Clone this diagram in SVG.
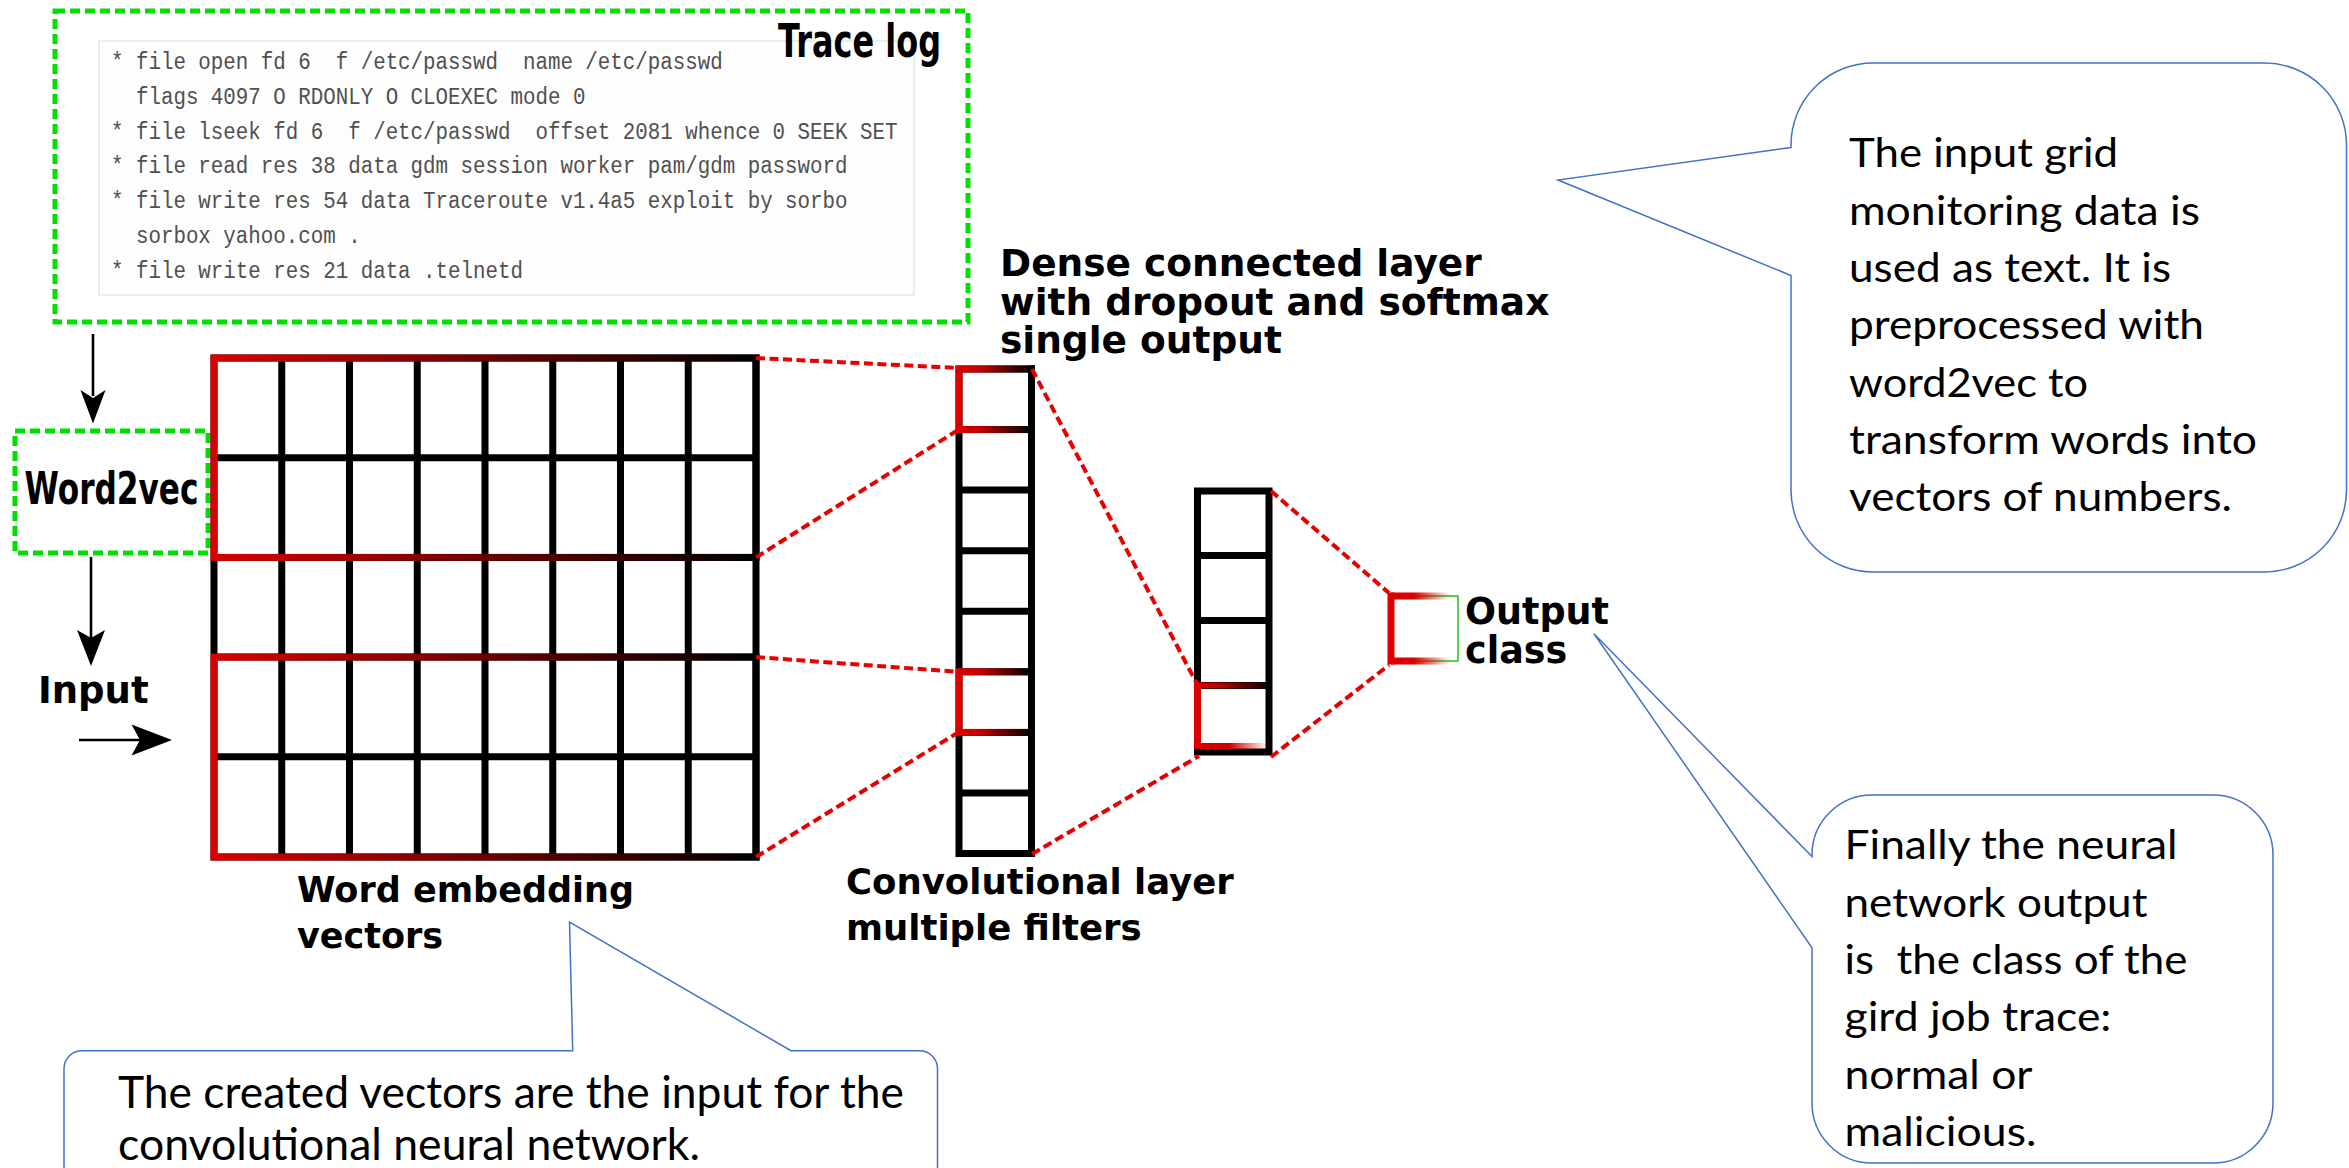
<svg xmlns="http://www.w3.org/2000/svg" width="2349" height="1168" viewBox="0 0 2349 1168">
  <style>
    .lbl { font-family: "DejaVu Sans", "Liberation Sans", sans-serif; font-weight: bold; fill: #000; }
    .mono { font-family: "Liberation Mono", "DejaVu Sans Mono", monospace; font-size: 23px; fill: #505050; white-space: pre; }
    .note { font-family: Lato, "Open Sans", sans-serif; fill: #000; }
    .greenbox { fill: none; stroke: #00e000; stroke-width: 5; stroke-dasharray: 10 5; }
    .cell { fill: #fff; stroke: #000; stroke-width: 7; }
    .div { stroke: #000; stroke-width: 7; }
    .link { fill: none; stroke: #e60000; stroke-width: 4; stroke-dasharray: 9 4.5; }
    .callout { fill: #fff; stroke: #4472c4; stroke-width: 1.5; }
    .arrow { stroke: #000; stroke-width: 2.6; fill: none; }
  </style>
  <defs>
    <linearGradient id="redToBlack" x1="0" y1="0" x2="1" y2="0">
      <stop offset="0" stop-color="#d80000"/>
      <stop offset="1" stop-color="#000"/>
    </linearGradient>
    <linearGradient id="redToBlackH" gradientUnits="userSpaceOnUse" x1="959" y1="0" x2="1031" y2="0">
      <stop offset="0" stop-color="#dd0000"/>
      <stop offset="0.3" stop-color="#c00000"/>
      <stop offset="1" stop-color="#000"/>
    </linearGradient>
    <linearGradient id="denseTop" gradientUnits="userSpaceOnUse" x1="1197" y1="0" x2="1270" y2="0">
      <stop offset="0" stop-color="#dd0000"/>
      <stop offset="0.3" stop-color="#c00000"/>
      <stop offset="1" stop-color="#000"/>
    </linearGradient>
    <linearGradient id="denseFade" gradientUnits="userSpaceOnUse" x1="1197" y1="0" x2="1268" y2="0">
      <stop offset="0" stop-color="#dd0000"/>
      <stop offset="0.45" stop-color="#cc0000"/>
      <stop offset="1" stop-color="#dd0000" stop-opacity="0"/>
    </linearGradient>
    <linearGradient id="outFade" gradientUnits="userSpaceOnUse" x1="1390" y1="0" x2="1450" y2="0">
      <stop offset="0" stop-color="#dd0000"/>
      <stop offset="0.4" stop-color="#dd0000"/>
      <stop offset="1" stop-color="#dd0000" stop-opacity="0"/>
    </linearGradient>
  </defs>

  <rect width="2349" height="1168" fill="#fff"/>

  <!-- trace log excerpt -->
  <g id="trace-log">
    <rect class="greenbox" x="55" y="11" width="913" height="311"/>
    <rect x="99" y="41" width="815" height="254" fill="#fdfdfd" stroke="#e2e2e2" stroke-width="1.2"/>
    <!-- monospace lines, narrowed horizontally to a 12.5px character pitch -->
    <g class="mono" transform="matrix(0.905 0 0 1 10.545 0)">
      <text x="111" y="69" xml:space="preserve">* file open fd 6  f /etc/passwd  name /etc/passwd</text>
      <text x="111" y="103.8" xml:space="preserve">  flags 4097 O RDONLY O CLOEXEC mode 0</text>
      <text x="111" y="138.6" xml:space="preserve">* file lseek fd 6  f /etc/passwd  offset 2081 whence 0 SEEK SET</text>
      <text x="111" y="173.4" xml:space="preserve">* file read res 38 data gdm session worker pam/gdm password</text>
      <text x="111" y="208.2" xml:space="preserve">* file write res 54 data Traceroute v1.4a5 exploit by sorbo</text>
      <text x="111" y="243" xml:space="preserve">  sorbox yahoo.com .</text>
      <text x="111" y="277.8" xml:space="preserve">* file write res 21 data .telnetd</text>
    </g>
    <text class="lbl" x="778" y="57" font-size="47" textLength="163" lengthAdjust="spacingAndGlyphs">Trace log</text>
  </g>

  <!-- word2vec step -->
  <g id="word2vec">
    <rect class="greenbox" x="15" y="431" width="193" height="122"/>
    <text class="lbl" x="24.5" y="504" font-size="45" textLength="174" lengthAdjust="spacingAndGlyphs">Word2vec</text>
  </g>

  <!-- input label -->
  <g id="input">
    <text class="lbl" x="38" y="703" font-size="37">Input</text>
  </g>

  <!-- word embedding matrix: 8 columns x 5 rows -->
  <g id="embedding">
    <rect class="cell" x="214" y="358" width="542" height="499"/>
    <g class="div">
      <line x1="281.75" y1="358" x2="281.75" y2="857"/>
      <line x1="349.5" y1="358" x2="349.5" y2="857"/>
      <line x1="417.25" y1="358" x2="417.25" y2="857"/>
      <line x1="485" y1="358" x2="485" y2="857"/>
      <line x1="552.75" y1="358" x2="552.75" y2="857"/>
      <line x1="620.5" y1="358" x2="620.5" y2="857"/>
      <line x1="688.25" y1="358" x2="688.25" y2="857"/>
      <line x1="214" y1="457.7" x2="756" y2="457.7"/>
      <line x1="214" y1="557.4" x2="756" y2="557.4"/>
      <line x1="214" y1="657.1" x2="756" y2="657.1"/>
      <line x1="214" y1="756.8" x2="756" y2="756.8"/>
    </g>
    <rect x="214" y="358" width="542" height="199.4" fill="none" stroke="url(#redToBlack)" stroke-width="7"/>
    <rect x="214" y="657.1" width="542" height="199.9" fill="none" stroke="url(#redToBlack)" stroke-width="7"/>
    <text class="lbl" x="297" y="902" font-size="35">Word embedding</text>
    <text class="lbl" x="297" y="948" font-size="35">vectors</text>
  </g>

  <!-- convolutional layer: 8 cells -->
  <g id="conv-layer">
    <rect class="cell" x="959" y="369" width="72.5" height="484.5"/>
    <g class="div">
      <line x1="959" y1="429.6" x2="1031.5" y2="429.6"/>
      <line x1="959" y1="490.1" x2="1031.5" y2="490.1"/>
      <line x1="959" y1="550.7" x2="1031.5" y2="550.7"/>
      <line x1="959" y1="611.2" x2="1031.5" y2="611.2"/>
      <line x1="959" y1="671.8" x2="1031.5" y2="671.8"/>
      <line x1="959" y1="732.4" x2="1031.5" y2="732.4"/>
      <line x1="959" y1="792.9" x2="1031.5" y2="792.9"/>
    </g>
    <rect x="959" y="369" width="72.5" height="60.6" fill="none" stroke="url(#redToBlackH)" stroke-width="7"/>
    <rect x="959" y="671.8" width="72.5" height="60.6" fill="none" stroke="url(#redToBlackH)" stroke-width="7"/>
    <line x1="1031.5" y1="365.5" x2="1031.5" y2="857" stroke="#000" stroke-width="7"/>
    <text class="lbl" x="846" y="894" font-size="35.5">Convolutional layer</text>
    <text class="lbl" x="846" y="940" font-size="35.5">multiple filters</text>
  </g>

  <!-- dense layer: 4 cells -->
  <g id="dense-layer">
    <rect class="cell" x="1197.5" y="491" width="71.5" height="261" stroke-width="6"/>
    <g class="div" stroke-width="6">
      <line x1="1197.5" y1="555.5" x2="1269" y2="555.5"/>
      <line x1="1197.5" y1="620.5" x2="1269" y2="620.5"/>
      <line x1="1197.5" y1="685.5" x2="1269" y2="685.5"/>
    </g>
    <line x1="1197.5" y1="685.5" x2="1266" y2="685.5" stroke="url(#denseTop)" stroke-width="6"/>
    <line x1="1197.5" y1="746" x2="1266" y2="746" stroke="url(#denseFade)" stroke-width="6"/>
    <line x1="1197.5" y1="682.5" x2="1197.5" y2="749" stroke="#dd0000" stroke-width="7"/>
    <text class="lbl" x="1000" y="276" font-size="37.5">Dense connected layer</text>
    <text class="lbl" x="1000" y="314.5" font-size="37.5">with dropout and softmax</text>
    <text class="lbl" x="1000" y="353" font-size="37.5">single output</text>
  </g>

  <!-- output unit -->
  <g id="output">
    <rect x="1391" y="596" width="67" height="65" fill="#fff" stroke="#22c022" stroke-width="1.5"/>
    <line x1="1391" y1="596" x2="1452" y2="596" stroke="url(#outFade)" stroke-width="7"/>
    <line x1="1391" y1="661" x2="1452" y2="661" stroke="url(#outFade)" stroke-width="7"/>
    <line x1="1391" y1="592.5" x2="1391" y2="664.5" stroke="#dd0000" stroke-width="7"/>
    <text class="lbl" x="1465" y="624" font-size="36.5">Output</text>
    <text class="lbl" x="1465" y="663" font-size="36.5">class</text>
  </g>

  <!-- connectors -->
  <g id="connectors">
    <line class="arrow" x1="93" y1="334" x2="93" y2="396"/>
    <path d="M93,423.6 L80.5,390 L93,398 L105.5,390 Z" fill="#000"/>
    <line class="arrow" x1="91" y1="557" x2="91" y2="638"/>
    <path d="M91,666 L77,630 L91,638 L105,630 Z" fill="#000"/>
    <line class="arrow" x1="79" y1="740" x2="140" y2="740"/>
    <path d="M172,740 L131.5,724.5 L140,740 L131.5,755.5 Z" fill="#000"/>

    <line class="link" x1="756" y1="358" x2="958" y2="368"/>
    <line class="link" x1="756" y1="557.4" x2="958" y2="430"/>
    <line class="link" x1="756" y1="657.1" x2="958" y2="671.8"/>
    <line class="link" x1="756" y1="857" x2="958" y2="732.5"/>
    <line class="link" x1="1032" y1="369" x2="1197" y2="684"/>
    <line class="link" x1="1032" y1="854" x2="1199" y2="756"/>
    <line class="link" x1="1271" y1="491" x2="1389" y2="593"/>
    <line class="link" x1="1271" y1="757" x2="1389" y2="665"/>
  </g>

  <!-- annotation bubbles -->
  <g id="note-input">
    <path class="callout" d="M1791,147.5 L1558,180 L1791,275.5 L1791,490 A82,82 0 0 0 1873,572 L2264.5,572 A82,82 0 0 0 2346.5,490 L2346.5,145 A82,82 0 0 0 2264.5,63 L1873,63 A82,82 0 0 0 1791,145 Z"/>
    <g class="note" font-size="40">
      <text x="1849" y="167" textLength="269" lengthAdjust="spacingAndGlyphs">The input grid</text>
      <text x="1849" y="224.5" textLength="351" lengthAdjust="spacingAndGlyphs">monitoring data is</text>
      <text x="1849" y="282" textLength="322" lengthAdjust="spacingAndGlyphs">used as text. It is</text>
      <text x="1849" y="339" textLength="355" lengthAdjust="spacingAndGlyphs">preprocessed with</text>
      <text x="1849" y="396.5" textLength="239" lengthAdjust="spacingAndGlyphs">word2vec to</text>
      <text x="1849" y="454" textLength="408" lengthAdjust="spacingAndGlyphs">transform words into</text>
      <text x="1849" y="511" textLength="383" lengthAdjust="spacingAndGlyphs">vectors of numbers.</text>
    </g>
  </g>

  <g id="note-output">
    <path class="callout" d="M1812,856.6 L1594,633.7 L1812,947.7 L1812,1103 A60,60 0 0 0 1872,1163 L2213,1163 A60,60 0 0 0 2273,1103 L2273,855 A60,60 0 0 0 2213,795 L1872,795 A60,60 0 0 0 1812,855 Z"/>
    <g class="note" font-size="40">
      <text x="1844.5" y="859" textLength="333" lengthAdjust="spacingAndGlyphs">Finally the neural</text>
      <text x="1844.5" y="916.5" textLength="303" lengthAdjust="spacingAndGlyphs">network output</text>
      <text x="1844.5" y="974" textLength="343" lengthAdjust="spacingAndGlyphs" xml:space="preserve" style="white-space: pre">is  the class of the</text>
      <text x="1844.5" y="1031" textLength="267" lengthAdjust="spacingAndGlyphs">gird job trace:</text>
      <text x="1844.5" y="1089" textLength="188" lengthAdjust="spacingAndGlyphs">normal or</text>
      <text x="1844.5" y="1145.5" textLength="192" lengthAdjust="spacingAndGlyphs">malicious.</text>
    </g>
  </g>

  <g id="note-vectors">
    <path class="callout" d="M572.7,1050.7 L569.5,922 L791,1050.7 L919.5,1050.7 A18,18 0 0 1 937.5,1068.7 L937.5,1200 L64,1200 L64,1068.7 A18,18 0 0 1 82,1050.7 Z"/>
    <g class="note" font-size="44">
      <text x="118" y="1108" textLength="786" lengthAdjust="spacingAndGlyphs">The created vectors are the input for the</text>
      <text x="118" y="1160" textLength="582" lengthAdjust="spacingAndGlyphs">convolutional neural network.</text>
    </g>
  </g>
</svg>
